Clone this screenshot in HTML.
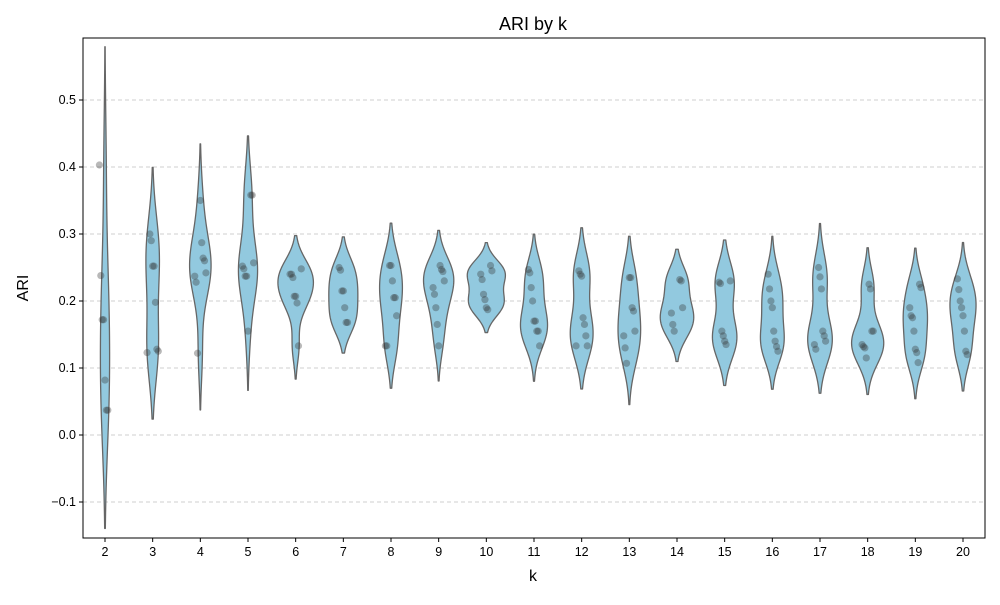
<!DOCTYPE html>
<html><head><meta charset="utf-8"><style>
body{margin:0;background:#fff}
svg text{font-family:"Liberation Sans",sans-serif;fill:#000}
</style></head><body>
<svg id="chart" width="1000" height="600" xmlns="http://www.w3.org/2000/svg">
<rect width="1000" height="600" fill="#fff"/>
<text x="533" y="30" font-size="18" text-anchor="middle">ARI by k</text>
<text x="533" y="581" font-size="16" text-anchor="middle">k</text>
<text x="28" y="288" font-size="16" text-anchor="middle" transform="rotate(-90 28 288)">ARI</text>
<g id="grid"></g><g id="violins"></g><g id="points"></g><g id="axes"></g>
</svg>
<script>
const categories=[2,3,4,5,6,7,8,9,10,11,12,13,14,15,16,17,18,19,20];
const yTicks=[-0.1,0,0.1,0.2,0.3,0.4,0.5];
const s2=[0.403,0.238,0.172,0.172,0.082,0.037,0.037];
const s3=[0.3,0.29,0.252,0.252,0.198,0.128,0.125,0.123];
const s4=[0.35,0.287,0.264,0.26,0.242,0.237,0.228,0.122];
const s5=[0.358,0.358,0.257,0.252,0.248,0.237,0.237,0.155];
const s6=[0.248,0.24,0.24,0.235,0.207,0.207,0.197,0.133];
const s7=[0.25,0.246,0.215,0.215,0.19,0.168,0.168];
const s8=[0.253,0.253,0.23,0.205,0.205,0.178,0.133,0.133];
const s9=[0.253,0.247,0.244,0.23,0.22,0.21,0.19,0.165,0.133];
const s10=[0.253,0.245,0.24,0.232,0.21,0.202,0.19,0.187];
const s11=[0.247,0.242,0.22,0.2,0.17,0.17,0.155,0.155,0.133];
const s12=[0.245,0.24,0.237,0.175,0.165,0.148,0.133,0.133];
const s13=[0.235,0.235,0.19,0.185,0.155,0.148,0.13,0.107];
const s14=[0.232,0.23,0.19,0.182,0.165,0.155];
const s15=[0.23,0.228,0.226,0.155,0.148,0.14,0.135];
const s16=[0.24,0.218,0.2,0.19,0.155,0.14,0.132,0.125];
const s17=[0.25,0.236,0.218,0.155,0.148,0.14,0.135,0.128];
const s18=[0.225,0.218,0.155,0.155,0.135,0.132,0.13,0.115];
const s19=[0.225,0.22,0.19,0.178,0.175,0.155,0.128,0.123,0.108];
const s20=[0.233,0.217,0.2,0.19,0.178,0.155,0.125,0.12];
const series=[s2,s3,s4,s5,s6,s7,s8,s9,s10,s11,s12,s13,s14,s15,s16,s17,s18,s19,s20];

const NS="http://www.w3.org/2000/svg";
const L=83,R=985,T=38,B=538;
const step=(963-105)/(categories.length-1);
const xPos=i=>105+step*i;
const yPos=v=>435-(v)*670;
function mk(tag,attrs,parent){const e=document.createElementNS(NS,tag);for(const k in attrs)e.setAttribute(k,attrs[k]);parent.appendChild(e);return e;}
const grid=document.getElementById('grid'),axes=document.getElementById('axes'),vg=document.getElementById('violins'),pg=document.getElementById('points');
yTicks.forEach(t=>{const y=yPos(t);
 const g=mk('line',{x1:L,x2:R,y1:y,y2:y,stroke:'#cfcfcf','stroke-dasharray':'4,3','stroke-width':0.9},grid);
 
 
 const tk=mk('line',{x1:L-4,x2:L,y1:y,y2:y,stroke:'#000'},axes);
 
 
 const tx=mk('text',{x:L-7,y:y+4,'font-size':12.5,'text-anchor':'end'},axes);
 tx.textContent=(t<0?'\u2212'+Math.abs(t).toFixed(1):t.toFixed(1));
 
 
});
const kdes=series.map(d=>{const n=d.length,m=d.reduce((a,b)=>a+b,0)/n;
 const sd=Math.sqrt(d.reduce((a,b)=>a+(b-m)*(b-m),0)/(n-1));const bw=sd*Math.pow(n,-0.2);
 const lo=Math.min(...d)-2*bw,hi=Math.max(...d)+2*bw;const pts=[];
 for(let j=0;j<=120;j++){const v=lo+(hi-lo)*j/120;let s=0;d.forEach(x=>{s+=Math.exp(-0.5*((v-x)/bw)**2);});pts.push([v,s/(n*bw*Math.sqrt(2*Math.PI))]);}
 return pts;});
const gmax=Math.max(...kdes.map(p=>Math.max(...p.map(q=>q[1]))));
kdes.forEach((pts,i)=>{const cx=xPos(i),hw=step*0.4;
 let dstr='';pts.forEach((p,j)=>{dstr+=(j?'L':'M')+(cx+p[1]/gmax*hw).toFixed(2)+','+yPos(p[0]).toFixed(2);});
 for(let j=pts.length-1;j>=0;j--){const p=pts[j];dstr+='L'+(cx-p[1]/gmax*hw).toFixed(2)+','+yPos(p[0]).toFixed(2);}
 const path=mk('path',{d:dstr+'Z',fill:'#92c9df',stroke:'#666','stroke-width':1.3,'stroke-linejoin':'round'},vg);
 
 
 series[i].forEach((v,j)=>{const jit=(((j*37+i*11)%9)-4)*1.4;
  const c=mk('circle',{cx:cx+jit,cy:yPos(v),r:3.6,fill:'#333','fill-opacity':0.35},pg);
  
  });
 const tk=mk('line',{x1:cx,x2:cx,y1:B,y2:B+4,stroke:'#000'},axes);
 
 
 const tx=mk('text',{x:cx,y:B+18,'font-size':12.5,'text-anchor':'middle'},axes);
 tx.textContent=categories[i];
 
 
});
const fr=mk('rect',{x:L,y:T,width:R-L,height:B-T,fill:'none',stroke:'#000','stroke-width':1},axes);


</script>
</body></html>
